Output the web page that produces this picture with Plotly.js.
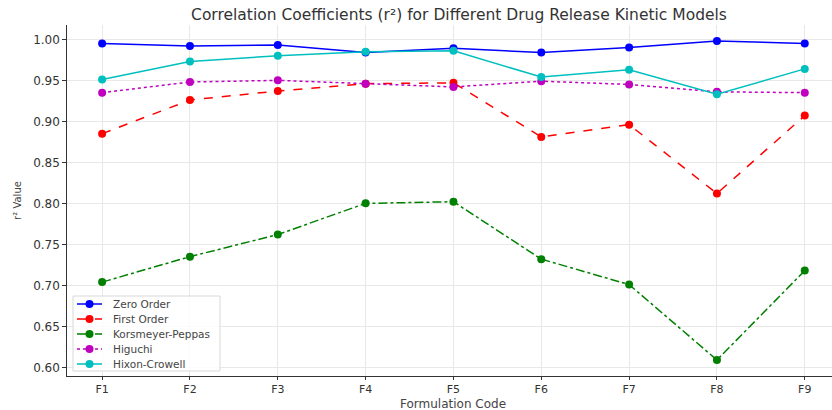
<!DOCTYPE html>
<html>
<head>
<meta charset="utf-8">
<script src="https://cdn.plot.ly/plotly-3.0.1.min.js"></script>
<style>html,body{margin:0;padding:0;background:#fff;}#chart{width:832px;height:410px;}</style>
</head>
<body>
<div id="chart"></div>
<script>
const categories = ["F1","F2","F3","F4","F5","F6","F7","F8","F9"];
const zeroOrder = [0.995, 0.992, 0.993, 0.984, 0.989, 0.984, 0.990, 0.998, 0.995];
const firstOrder = [0.885, 0.926, 0.937, 0.946, 0.947, 0.881, 0.896, 0.812, 0.907];
const korsmeyerPeppas = [0.704, 0.735, 0.762, 0.800, 0.802, 0.732, 0.701, 0.609, 0.718];
const higuchi = [0.935, 0.948, 0.950, 0.946, 0.942, 0.949, 0.945, 0.936, 0.935];
const hixonCrowell = [0.951, 0.973, 0.980, 0.985, 0.986, 0.954, 0.963, 0.933, 0.964];
const seriesNames = ["Zero Order", "First Order", "Korsmeyer-Peppas", "Higuchi", "Hixon-Crowell"];
const yTicks = [0.60, 0.65, 0.70, 0.75, 0.80, 0.85, 0.90, 0.95, 1.00];

const colors = ["#0000ff", "#ff0000", "#008000", "#bf00bf", "#00bfbf"];
const dashes = ["solid", "dash", "dashdot", "dot", "solid"];
const values = [zeroOrder, firstOrder, korsmeyerPeppas, higuchi, hixonCrowell];

const W = 832, H = 410;
const M = {l: 67, r: 0, t: 25, b: 34};
const PW = W - M.l - M.r, PH = H - M.t - M.b;
const px2x = p => (p - M.l) / PW;
const py2y = p => (H - M.b - p) / PH;

const data = values.map((v, i) => ({
  type: "scatter", mode: "lines+markers", name: seriesNames[i],
  x: categories.map((c, j) => j), y: v,
  line: {color: colors[i], width: 1.5, dash: dashes[i]},
  marker: {color: colors[i], size: 8, symbol: "circle"},
  showlegend: false
}));

// custom legend (matplotlib-like compact rows)
const shapes = [];
const annotations = [];
const legLeft = 73, legRight = 220, legTop = 296, legBottom = 371;
shapes.push({type: "rect", xref: "paper", yref: "paper", layer: "above",
  x0: px2x(legLeft), x1: px2x(legRight), y0: py2y(legBottom), y1: py2y(legTop),
  fillcolor: "rgba(255,255,255,0.8)", line: {color: "#d8d8d8", width: 1}});
seriesNames.forEach((n, i) => {
  const ry = 304 + i * 15;
  shapes.push({type: "line", xref: "paper", yref: "paper", layer: "above",
    x0: px2x(77), x1: px2x(102), y0: py2y(ry), y1: py2y(ry),
    line: {color: colors[i], width: 1.5, dash: dashes[i]}});
  shapes.push({type: "circle", xref: "paper", yref: "paper", layer: "above",
    x0: px2x(85.5), x1: px2x(93.5), y0: py2y(ry + 4), y1: py2y(ry - 4),
    fillcolor: colors[i], line: {color: colors[i], width: 0}});
  annotations.push({xref: "paper", yref: "paper", x: px2x(111), y: py2y(ry),
    xanchor: "left", yanchor: "middle", showarrow: false, text: n,
    font: {family: "DejaVu Sans", size: 10.5, color: "#444"}});
});
// x-axis title
annotations.push({xref: "paper", yref: "paper", x: px2x(453), y: py2y(403.5),
  xanchor: "center", yanchor: "middle", showarrow: false, text: "Formulation Code",
  font: {family: "DejaVu Sans", size: 12, color: "#444"}});

const layout = {
  width: W, height: H,
  margin: M,
  paper_bgcolor: "#fff", plot_bgcolor: "#fff",
  font: {family: "DejaVu Sans", size: 11, color: "#444"},
  title: {text: "Correlation Coefficients (r²) for Different Drug Release Kinetic Models",
          font: {family: "DejaVu Sans", size: 15.5, color: "#333"},
          xref: "container", x: 459 / W, xanchor: "center", y: 1 - 15 / H, yanchor: "middle"},
  xaxis: {
    range: [-0.4, 8.31], type: "linear",
    tickvals: categories.map((c, i) => i), ticktext: categories,
    showgrid: true, gridcolor: "#e8e8e8", gridwidth: 1,
    showline: true, linecolor: "#333", linewidth: 1.2,
    ticks: "outside", ticklen: 3, tickcolor: "#333",
    tickfont: {family: "DejaVu Sans", size: 11, color: "#333"},
    zeroline: false
  },
  yaxis: {
    range: [0.5895, 1.0175],
    tickvals: yTicks, ticktext: yTicks.map(v => v.toFixed(2)),
    showgrid: true, gridcolor: "#e8e8e8", gridwidth: 1,
    showline: true, linecolor: "#333", linewidth: 1.2,
    ticks: "outside", ticklen: 3.5, tickcolor: "#333",
    tickfont: {family: "DejaVu Sans", size: 12, color: "#333"},
    zeroline: false,
    title: {text: "r² Value", font: {family: "DejaVu Sans", size: 10, color: "#444"}, standoff: 9}
  },
  shapes: shapes,
  annotations: annotations,
  showlegend: false
};
Plotly.newPlot("chart", data, layout, {displayModeBar: false, staticPlot: true});
</script>
</body>
</html>
